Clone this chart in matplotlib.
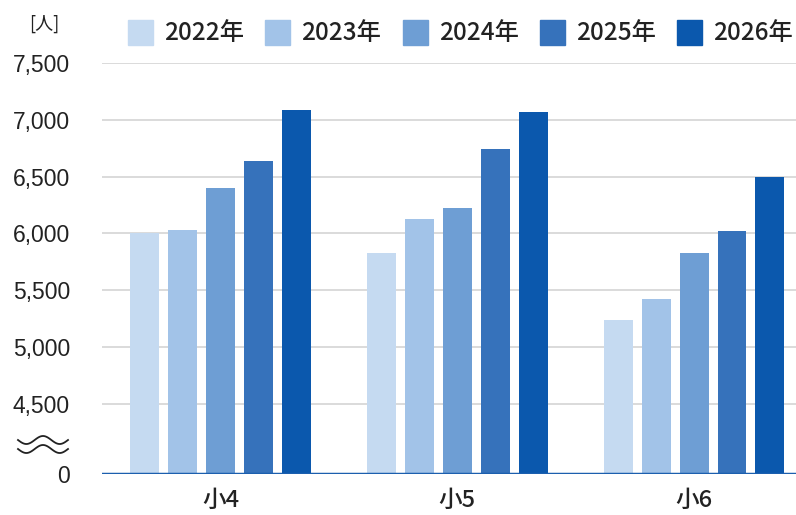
import numpy as np
import matplotlib.pyplot as plt
from matplotlib.patches import Rectangle

plt.rcParams['font.family'] = ['Noto Sans CJK JP', 'DejaVu Sans']

# 学年別の人数
grades = ['小4', '小5', '小6']
years = ['2022年', '2023年', '2024年', '2025年', '2026年']
v2022 = [6000, 5830, 5240]
v2023 = [6030, 6130, 5420]
v2024 = [6400, 6220, 5825]
v2025 = [6635, 6740, 6025]
v2026 = [7090, 7065, 6500]
yticks = [4500, 5000, 5500, 6000, 6500, 7000, 7500]

colors = ['#c5daf1', '#a2c3e8', '#6e9ed4', '#3672bb', '#0b58ad']
series = [v2022, v2023, v2024, v2025, v2026]

# 縦軸は 0〜4,500 を省略して表示する
y_zero = 3883   # 省略部分の下端（0 の位置）
y_top = 7500

fig = plt.figure(figsize=(7.96, 5.15), dpi=100)
ax = fig.add_axes([102 / 796, 41 / 515, 694 / 796, (474 - 63) / 515])

x = np.arange(len(grades))
pitch = 0.16
width = 0.122
for i, (vals, c) in enumerate(zip(series, colors)):
    off = (i - 2) * pitch
    ax.bar(x + off, np.array(vals) - y_zero, bottom=y_zero, width=width,
           color=c, zorder=3)

ax.set_xlim(-0.5, 2.43)
ax.set_ylim(y_zero, y_top)
for t in yticks:
    ax.axhline(t, color='#d4d4d4', lw=1.2, zorder=1)
ax.axhline(y_zero, color='#1c5fae', lw=2.5, zorder=4)

ax.set_yticks([y_zero] + yticks)
ax.set_yticklabels(['0'] + [f'{t:,}' for t in yticks],
                   fontfamily='Liberation Sans', fontsize=16.5, color='#222222')
ax.set_xticks(x)
ax.set_xticklabels(grades, fontsize=17, color='#222222', fontweight='medium')
ax.tick_params(axis='y', length=0, pad=23)
ax.tick_params(axis='x', length=0, pad=11)
for s in ax.spines.values():
    s.set_visible(False)

# 省略記号（二重の波線）
t = np.linspace(0, 1, 100)
wx = 18 + 50 * t
for base in (440, 449):
    wy = base + 4 * np.sin(2 * np.pi * 1.5 * t)
    fig.add_artist(plt.Line2D(wx / 796, 1 - wy / 515, color='#222222', lw=1.3))

# 単位
fig.text(44 / 796, 1 - 24 / 515, '[人]', fontsize=13, color='#222222',
         ha='center', va='center')

# 凡例
for i, (lab, c) in enumerate(zip(years, colors)):
    x0 = 128 + i * 137.3
    fig.add_artist(Rectangle((x0 / 796, 1 - 45 / 515), 25 / 796, 25 / 515,
                             color=c, transform=fig.transFigure))
    fig.text((x0 + 36) / 796, 1 - 33 / 515, lab, fontsize=17.5, color='#222222',
             ha='left', va='center', fontweight='medium')

fig.savefig('out.png', dpi=100)
